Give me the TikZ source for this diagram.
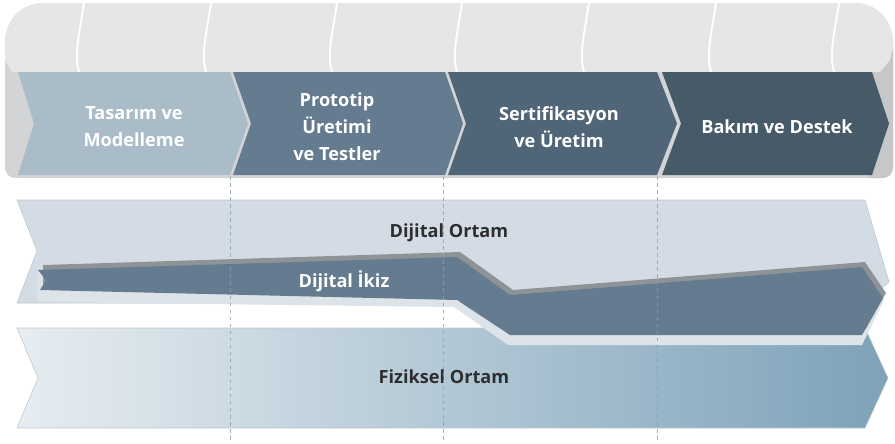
\documentclass[tikz,border=0pt]{standalone}
\usepackage{fontspec}
\setmainfont{Open Sans}
\usepackage{xcolor}
\usepackage{tikz}
\usetikzlibrary{positioning}

\definecolor{topgray}{HTML}{E5E6E8}
\definecolor{sidegray}{HTML}{D3D4D6}
\definecolor{rightgray}{HTML}{C6C7C9}
\definecolor{phaseA}{HTML}{A9BCC7}
\definecolor{phaseB}{HTML}{657B8F}
\definecolor{phaseC}{HTML}{506578}
\definecolor{phaseD}{HTML}{475A67}
\definecolor{digitalenv}{HTML}{D3DCE4}
\definecolor{envedge}{HTML}{BCC8D2}
\definecolor{physlight}{HTML}{E7EDF1}
\definecolor{physdark}{HTML}{7DA2B9}
\definecolor{twinblue}{HTML}{657B8F}
\definecolor{twinrim}{HTML}{DCE3E9}
\definecolor{twinshadow}{HTML}{8E9397}
\definecolor{guideblue}{HTML}{8A9FB1}
\definecolor{labeldark}{HTML}{2E2E2E}

\begin{document}
\begin{tikzpicture}[x=0.03cm, y=-0.03cm,
  phase/.style={text=white, font=\bfseries\fontsize{15.5}{23}\selectfont, align=center},
  envlabel/.style={text=labeldark, font=\bfseries\fontsize{15.5}{18}\selectfont, anchor=base},
  twinlabel/.style={text=white, font=\bfseries\fontsize{15.5}{18}\selectfont, anchor=base},
  guide/.style={dashed, draw=guideblue, line width=0.8pt, opacity=0.8}
]
\useasboundingbox (0,0) rectangle (895,443);

\fill[sidegray] (5,45) .. controls (5,20) and (20,3) .. (45,3) -- (853,3)
  .. controls (878,3) and (893,20) .. (893,45) -- (893,166)
  .. controls (893,174) and (889,178) .. (881,178) -- (17,178)
  .. controls (9,178) and (5,174) .. (5,166) -- cycle;
\fill[rightgray] (868,66) -- (893,50) -- (893,166)
  .. controls (893,174) and (889,178) .. (881,178) -- (868,178) -- cycle;
\fill[topgray] (5,45) .. controls (5,20) and (20,3) .. (45,3) -- (853,3)
  .. controls (878,3) and (893,20) .. (893,45) -- (890,60) -- (880,72) -- (12,72) -- (5,60) -- cycle;
\foreach \sx in {80,207,333,458,585,712,835}
  \draw[white, line width=1.6pt] (\sx+4,3) .. controls (\sx-1,35) and (\sx-6,55) .. (\sx-1,72);

\fill[phaseA] (18,72) -- (230,72) -- (248,123.5) -- (230,175) -- (18,175) -- (34,123.5) -- cycle;
\fill[phaseB] (233,72) -- (445,72) -- (463,123.5) -- (445,175) -- (233,175) -- (251,123.5) -- cycle;
\fill[phaseC] (448,72) -- (657,72) -- (677,123.5) -- (657,175) -- (448,175) -- (466,123.5) -- cycle;
\fill[phaseD] (662,72) -- (872,72) -- (889,123.5) -- (872,175) -- (662,175) -- (681,123.5) -- cycle;

\node[phase] (tasarim) at (134,127) {Tasarım ve\\Modelleme};
\node[phase] (prototip) at (337,127) {Prototip\\Üretimi\\ve Testler};
\node[phase] (sertifika) at (559,127) {Sertifikasyon\\ve Üretim};
\node[phase] (bakim) at (777,127) {Bakım ve Destek};

\fill[digitalenv, draw=envedge, line width=0.5pt] (17,200) -- (865,200) -- (889,282) -- (865,303) -- (17,303) -- (37,251) -- cycle;
\shade[left color=physlight, right color=physdark, draw=envedge, line width=0.5pt]
  (17,328) -- (865,328) -- (888,378) -- (865,428) -- (17,428) -- (38,378) -- cycle;

\fill[twinrim] (37,272) -- (457,259) -- (510,297) -- (862,269) -- (884,300) -- (862,345)
  -- (508,345) -- (454,307) -- (37,302) -- cycle;
\fill[twinshadow, shift={(3,-5)}] (40,270) -- (457,257) -- (510,295) -- (862,267) -- (883,298)
  -- (862,335) -- (510,335) -- (457,300) -- (40,290) -- cycle;
\fill[twinblue] (38,270) -- (457,257) -- (510,295) -- (862,267) -- (883,298) -- (862,335)
  -- (510,335) -- (457,300) -- (40,290) -- (46,280) -- cycle;

\node[envlabel] (dijitalortam) at (449,237) {Dijital Ortam};
\node[twinlabel] (dijitalikiz) at (344,287) {Dijital İkiz};
\node[envlabel] (fizikselortam) at (444,383) {Fiziksel Ortam};

\foreach \gx/\gn in {230/a,443/b,657/c} {
  \coordinate (top\gn) at (\gx,176);
  \coordinate (bot\gn) at (\gx,443);
  \draw[guide] (top\gn) -- (bot\gn);
}
\end{tikzpicture}
\end{document}
